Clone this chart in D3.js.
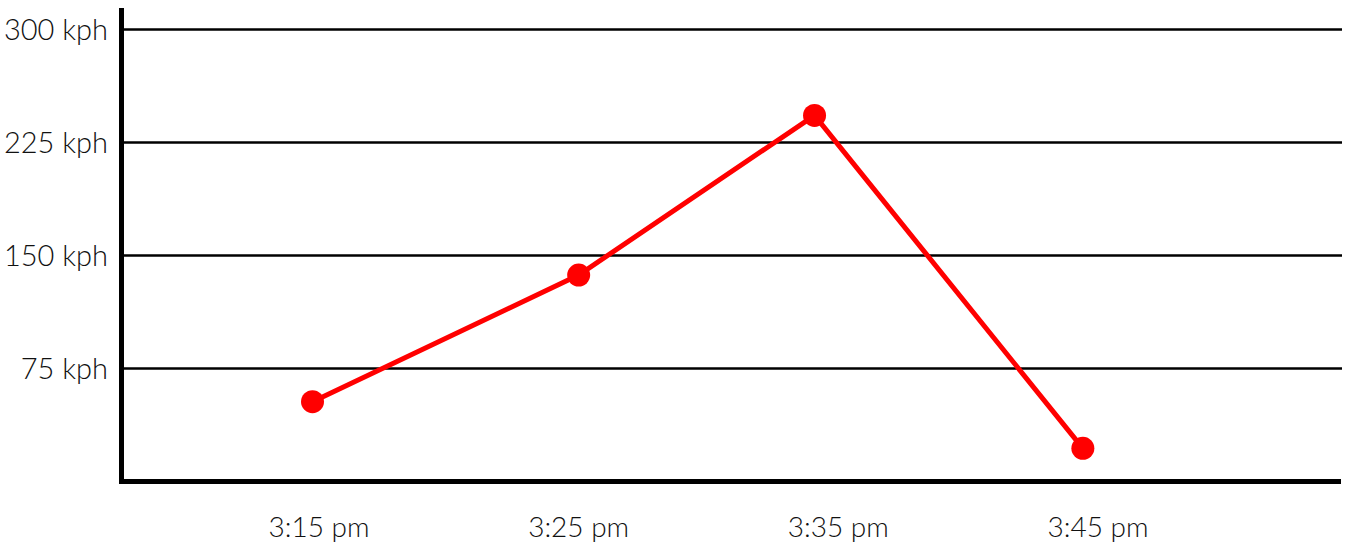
<!DOCTYPE html>
<html>
<head>
<meta charset="utf-8">
<script src="https://cdn.jsdelivr.net/npm/d3@7"></script>
<style>
  html, body { margin: 0; padding: 0; background: #fff; }
  svg { display: block; }
  .lbl { font-family: Lato, "Open Sans", sans-serif; font-weight: 300; fill: #111; }
</style>
</head>
<body>
<svg id="chart" width="1351" height="545"></svg>
<script>
// Speed readings (kph) taken during the run
const readingTimes = ["15:14:45", "15:25:00", "15:34:05", "15:44:25"];
const speeds = [53, 137, 243, 22];

// Axis labels
const timeTicks = ["15:15", "15:25", "15:35", "15:45"];
const timeTickLabels = ["3:15 pm", "3:25 pm", "3:35 pm", "3:45 pm"];
const speedTicks = [75, 150, 225, 300];

const parseFull = d3.timeParse("%H:%M:%S");
const parseHM = d3.timeParse("%H:%M");

const svg = d3.select("#chart");
const plot = { left: 122, right: 1342, top: 8, bottom: 481.5 };

const x = d3.scaleTime()
  .domain([parseHM(timeTicks[0]), parseHM(timeTicks[timeTicks.length - 1])])
  .range([319, 1098]);

const y = d3.scaleLinear()
  .domain([0, 300])
  .range([plot.bottom, 29.5]);

// Horizontal gridlines
svg.append("g")
  .selectAll("line")
  .data(speedTicks)
  .join("line")
  .attr("x1", plot.left)
  .attr("x2", plot.right)
  .attr("y1", d => y(d))
  .attr("y2", d => y(d))
  .attr("stroke", "#000")
  .attr("stroke-width", 2.5);

// Y tick labels
svg.append("g")
  .selectAll("text")
  .data(speedTicks)
  .join("text")
  .attr("class", "lbl")
  .attr("x", 108)
  .attr("y", d => y(d))
  .attr("dy", "0.36em")
  .attr("text-anchor", "end")
  .attr("font-size", 29)
  .text(d => d + " kph");

// X tick labels
svg.append("g")
  .selectAll("text")
  .data(timeTicks)
  .join("text")
  .attr("class", "lbl")
  .attr("x", d => x(parseHM(d)))
  .attr("y", 537)
  .attr("text-anchor", "middle")
  .attr("font-size", 28)
  .text((d, i) => timeTickLabels[i]);

// Axis lines
svg.append("line")
  .attr("x1", 121.5).attr("x2", 121.5)
  .attr("y1", plot.top).attr("y2", plot.bottom + 2.5)
  .attr("stroke", "#000").attr("stroke-width", 5);
svg.append("line")
  .attr("x1", 119).attr("x2", 1341)
  .attr("y1", plot.bottom).attr("y2", plot.bottom)
  .attr("stroke", "#000").attr("stroke-width", 5);

const data = readingTimes.map((t, i) => ({ t: parseFull(t), v: speeds[i] }));

// Speed line
svg.append("path")
  .datum(data)
  .attr("fill", "none")
  .attr("stroke", "#ff0000")
  .attr("stroke-width", 5)
  .attr("d", d3.line().x(d => x(d.t)).y(d => y(d.v)));

// Reading markers
svg.append("g")
  .selectAll("circle")
  .data(data)
  .join("circle")
  .attr("cx", d => x(d.t))
  .attr("cy", d => y(d.v))
  .attr("r", 11.5)
  .attr("fill", "#ff0000");
</script>
</body>
</html>
